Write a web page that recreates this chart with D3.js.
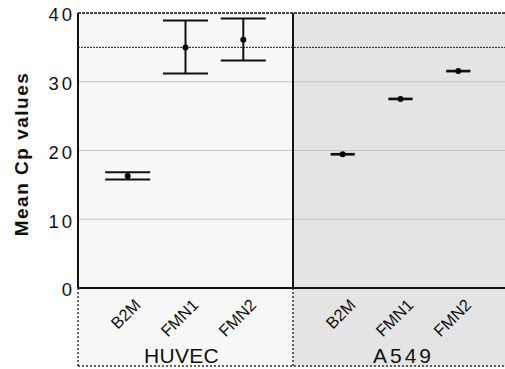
<!DOCTYPE html>
<html>
<head>
<meta charset="utf-8">
<script src="https://cdn.jsdelivr.net/npm/d3@7"></script>
<style>
  body { margin: 0; background: #fff; }
  text { font-family: "Liberation Sans", Arial, sans-serif; }
</style>
</head>
<body>
<svg id="chart"></svg>
<script>
// data
const groups = ['HUVEC', 'A549'];
const genes = ['B2M', 'FMN1', 'FMN2'];
const means = [[16.3, 35.0, 36.1], [19.45, 27.5, 31.55]];
const lower = [[15.8, 31.2, 33.1], [19.4, 27.45, 31.5]];
const upper = [[16.85, 38.9, 39.2], [19.5, 27.55, 31.6]];
const yTicks = [0, 10, 20, 30, 40];
const refLine = 35;

const width = 505, height = 369;
const margin = {top: 13, left: 78};
const panelW = 215;
const innerHeight = 275; // plot area down to y=288
const labelH = 79;

const panelFill = ['#f7f7f7', '#e4e4e4'];
const capW = [45, 24];

const svg = d3.select('#chart')
  .attr('width', width)
  .attr('height', height);

const yScale = d3.scaleLinear()
  .domain([0, 40])
  .range([innerHeight, 0]);

const xGroup = d3.scaleBand()
  .domain(groups)
  .range([0, panelW * groups.length]);

const xGene = d3.scalePoint()
  .domain(genes)
  .range([0, panelW])
  .padding(0.86);

const g = svg.append('g')
  .attr('transform', `translate(${margin.left}, ${margin.top})`);

// panel backgrounds (plot + label strip)
g.selectAll('rect.panel')
  .data(groups)
  .enter()
  .append('rect')
  .attr('class', 'panel')
  .attr('x', d => xGroup(d))
  .attr('y', 0)
  .attr('width', xGroup.bandwidth())
  .attr('height', innerHeight + labelH)
  .attr('fill', (d, i) => panelFill[i]);

// grid lines
g.selectAll('line.grid')
  .data(yTicks.filter(t => t > 0 && t < 40))
  .enter()
  .append('line')
  .attr('x1', 0)
  .attr('x2', panelW * 2)
  .attr('y1', d => yScale(d))
  .attr('y2', d => yScale(d))
  .attr('stroke', '#c4c4c4')
  .attr('stroke-width', 1.2);

// reference line
g.append('line')
  .attr('x1', 0)
  .attr('x2', panelW * 2)
  .attr('y1', yScale(refLine))
  .attr('y2', yScale(refLine))
  .attr('stroke', '#222')
  .attr('stroke-width', 1)
  .attr('stroke-dasharray', '2,1');

// top border
g.append('line')
  .attr('x1', 0)
  .attr('x2', panelW * 2)
  .attr('y1', yScale(40))
  .attr('y2', yScale(40))
  .attr('stroke', '#111')
  .attr('stroke-width', 1.5)
  .attr('stroke-dasharray', '3,1');

// label strip dotted borders
g.append('line')
  .attr('x1', 0).attr('x2', 0)
  .attr('y1', innerHeight).attr('y2', innerHeight + labelH - 1)
  .attr('stroke', '#333').attr('stroke-width', 1.5)
  .attr('stroke-dasharray', '2,2');
g.append('line')
  .attr('x1', xGroup('A549')).attr('x2', xGroup('A549'))
  .attr('y1', innerHeight).attr('y2', innerHeight + labelH - 1)
  .attr('stroke', '#333').attr('stroke-width', 1.5)
  .attr('stroke-dasharray', '2,2');
g.append('line')
  .attr('x1', 0).attr('x2', panelW * 2)
  .attr('y1', innerHeight + labelH - 1).attr('y2', innerHeight + labelH - 1)
  .attr('stroke', '#333').attr('stroke-width', 1.5)
  .attr('stroke-dasharray', '2,2');

// solid axes and panel divider
g.append('line')
  .attr('x1', 0).attr('x2', 0)
  .attr('y1', 0).attr('y2', innerHeight)
  .attr('stroke', '#111').attr('stroke-width', 2);
g.append('line')
  .attr('x1', xGroup('A549')).attr('x2', xGroup('A549'))
  .attr('y1', 0).attr('y2', innerHeight)
  .attr('stroke', '#111').attr('stroke-width', 2);
g.append('line')
  .attr('x1', 0).attr('x2', panelW * 2)
  .attr('y1', innerHeight).attr('y2', innerHeight)
  .attr('stroke', '#111').attr('stroke-width', 2);

// y axis labels
const yAxis = d3.axisLeft(yScale).tickValues(yTicks).tickSize(0).tickPadding(3);
const yAx = g.append('g').call(yAxis);
yAx.select('.domain').remove();
yAx.selectAll('text')
  .attr('font-size', 18.5)
  .attr('letter-spacing', 3)
  .attr('dy', '0.42em')
  .attr('fill', '#111')
  .style('font-family', '"Liberation Sans", Arial, sans-serif');

// y title
svg.append('text')
  .attr('transform', `translate(28, 154) rotate(-90)`)
  .attr('text-anchor', 'middle')
  .attr('font-size', 19)
  .attr('font-weight', 'bold')
  .attr('letter-spacing', 1.5)
  .attr('fill', '#111')
  .text('Mean Cp values');

// flatten data for marks
const rows = [];
groups.forEach((grp, gi) => {
  genes.forEach((gene, ji) => {
    rows.push({grp, gi, gene, mean: means[gi][ji], lo: lower[gi][ji], hi: upper[gi][ji]});
  });
});
const cx = d => xGroup(d.grp) + xGene(d.gene);

// error bars
const eb = g.selectAll('g.eb')
  .data(rows)
  .enter()
  .append('g')
  .attr('class', 'eb');
eb.append('line')
  .attr('x1', cx).attr('x2', cx)
  .attr('y1', d => yScale(d.lo)).attr('y2', d => yScale(d.hi))
  .attr('stroke', '#111').attr('stroke-width', 2);
eb.append('line')
  .attr('x1', d => cx(d) - capW[d.gi] / 2).attr('x2', d => cx(d) + capW[d.gi] / 2)
  .attr('y1', d => yScale(d.lo)).attr('y2', d => yScale(d.lo))
  .attr('stroke', '#111').attr('stroke-width', 2);
eb.append('line')
  .attr('x1', d => cx(d) - capW[d.gi] / 2).attr('x2', d => cx(d) + capW[d.gi] / 2)
  .attr('y1', d => yScale(d.hi)).attr('y2', d => yScale(d.hi))
  .attr('stroke', '#111').attr('stroke-width', 2);
eb.append('circle')
  .attr('cx', cx)
  .attr('cy', d => yScale(d.mean))
  .attr('r', 3)
  .attr('fill', '#000');

// category labels
g.selectAll('text.gene')
  .data(rows)
  .enter()
  .append('text')
  .attr('class', 'gene')
  .attr('transform', d => `translate(${cx(d) + 14}, ${innerHeight + 18}) rotate(-45)`)
  .attr('text-anchor', 'end')
  .attr('font-size', 16.5)
  .attr('fill', '#111')
  .text(d => d.gene);

// group labels
g.selectAll('text.grp')
  .data(groups)
  .enter()
  .append('text')
  .attr('class', 'grp')
  .attr('x', d => xGroup(d) + xGroup.bandwidth() / 2)
  .attr('y', innerHeight + labelH - 4)
  .attr('dx', (d, i) => i === 0 ? -4 : 3)
  .attr('text-anchor', 'middle')
  .attr('font-size', 21)
  .attr('letter-spacing', (d, i) => i === 1 ? 3 : 0.3)
  .attr('fill', '#111')
  .text(d => d);
</script>
</body>
</html>
